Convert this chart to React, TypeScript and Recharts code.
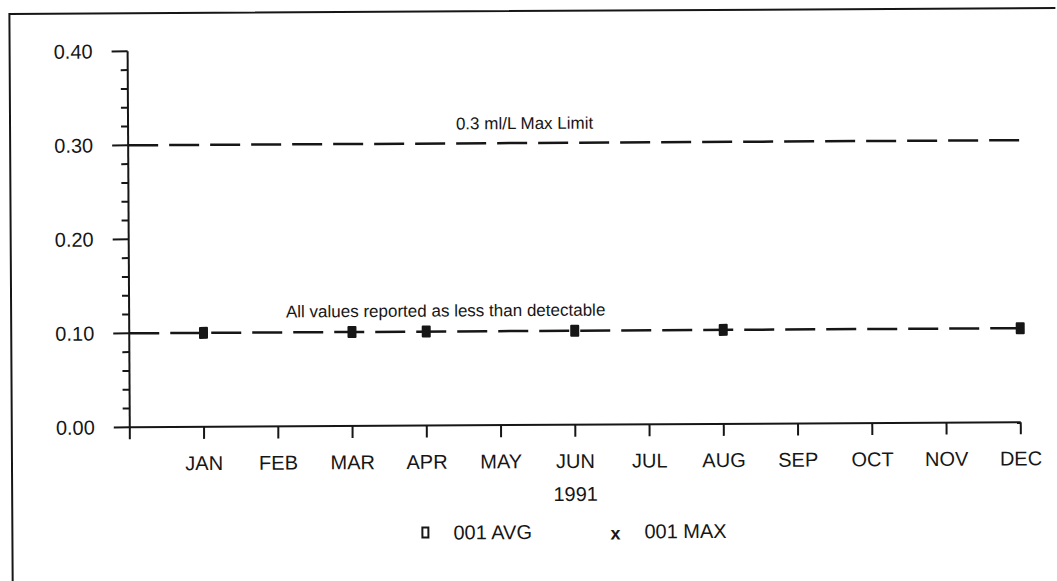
import React from "react";
import {
  ComposedChart,
  Scatter,
  XAxis,
  YAxis,
  ReferenceLine,
} from "recharts";

// categories (index 0 is the empty slot at the axis origin)
const months = ["JAN", "FEB", "MAR", "APR", "MAY", "JUN", "JUL", "AUG", "SEP", "OCT", "NOV", "DEC"];

// 001 AVG readings (all reported as less than detectable)
const avgMonths = ["JAN", "MAR", "APR", "JUN", "AUG", "DEC"];
const avgValues = [0.1, 0.1, 0.1, 0.1, 0.1, 0.1];

const maxLimit = 0.3;
const detectLimit = 0.1;

const yTicks = [0, 0.02, 0.04, 0.06, 0.08, 0.1, 0.12, 0.14, 0.16, 0.18, 0.2, 0.22, 0.24, 0.26, 0.28, 0.3, 0.32, 0.34, 0.36, 0.38, 0.4];
const xTicks = [0, 1, 2, 3, 4, 5, 6, 7, 8, 9, 10, 11, 12];

const legendItems = [
  { name: "001 AVG", marker: "square" },
  { name: "001 MAX", marker: "x" },
];

const INK = "#161616";
const FONT = '"Liberation Sans", Arial, Helvetica, sans-serif';

const chartData = avgMonths.map((m, i) => ({
  month: months.indexOf(m) + 1,
  avg: avgValues[i],
}));

function YTick(props: any) {
  const { x, y, payload } = props;
  const v = payload.value as number;
  const major = Math.round(v * 100) % 10 === 0;
  return (
    <g>
      <line x1={major ? x - 16 : x - 7} x2={x} y1={y} y2={y} stroke={INK} strokeWidth={2} />
      {major && (
        <text x={x - 35} y={y} dy={7} textAnchor="end" fontSize={20} fill={INK} fontFamily={FONT}>
          {v.toFixed(2)}
        </text>
      )}
    </g>
  );
}

function AvgMark(props: any) {
  const { cx, cy } = props;
  return <rect x={cx - 4.5} y={cy - 6} width={9} height={12} fill={INK} rx={1} />;
}

export default function App() {
  return (
    <div
      style={{
        position: "absolute",
        left: 0,
        top: 0,
        width: 1057,
        height: 581,
        background: "#fff",
        overflow: "hidden",
        fontFamily: FONT,
        transform: "rotate(-0.33deg)",
      }}
    >
      <div
        style={{
          position: "absolute",
          left: 10,
          top: 10,
          width: 1060,
          height: 576,
          border: `2px solid ${INK}`,
          boxSizing: "border-box",
        }}
      />
      <div style={{ position: "absolute", left: 0, top: 0 }}>
        <ComposedChart
          width={1057}
          height={581}
          data={chartData}
          margin={{ top: 49, right: 37, left: 29, bottom: 101 }}
        >
          <XAxis
            dataKey="month"
            type="number"
            domain={[0, 12]}
            ticks={xTicks}
            interval={0}
            tickFormatter={(i: number) => (i === 0 ? "" : months[i - 1])}
            height={55}
            tickSize={12}
            tickMargin={17}
            axisLine={{ stroke: INK, strokeWidth: 2 }}
            tickLine={{ stroke: INK, strokeWidth: 2 }}
            tick={{ fontSize: 20, fill: INK, fontFamily: FONT }}
            label={{ value: "1991", position: "bottom", offset: 7, fontSize: 20, fill: INK, fontFamily: FONT }}
          />
          <YAxis
            type="number"
            domain={[0, 0.4]}
            ticks={yTicks}
            interval={0}
            width={100}
            tickSize={0}
            tickMargin={0}
            tickLine={false}
            axisLine={{ stroke: INK, strokeWidth: 2 }}
            tick={<YTick />}
          />
          <ReferenceLine
            y={maxLimit}
            stroke={INK}
            strokeWidth={2.5}
            strokeDasharray="30 11"
            label={{ value: "0.3 ml/L Max Limit", position: "top", dx: -49, offset: 14, fontSize: 17, fill: INK, fontFamily: FONT }}
          />
          <ReferenceLine
            y={detectLimit}
            stroke={INK}
            strokeWidth={2.5}
            strokeDasharray="30 11"
            label={{ value: "All values reported as less than detectable", position: "top", dx: -129, offset: 15, fontSize: 17, fill: INK, fontFamily: FONT }}
          />
          <Scatter dataKey="avg" shape={<AvgMark />} isAnimationActive={false} />
        </ComposedChart>
      </div>
      {legendItems.map((item, i) => (
        <div
          key={item.name}
          style={{
            position: "absolute",
            left: i === 0 ? 420 : 609,
            top: 519,
            height: 26,
            display: "flex",
            alignItems: "center",
            fontSize: 20,
            color: INK,
          }}
        >
          {item.marker === "square" ? (
            <div style={{ width: 4, height: 8, border: `2px solid ${INK}`, marginRight: 24 }} />
          ) : (
            <div style={{ width: 10, fontWeight: "bold", fontSize: 18, marginRight: 24, lineHeight: "18px", marginTop: 4 }}>x</div>
          )}
          <span>{item.name}</span>
        </div>
      ))}
    </div>
  );
}
